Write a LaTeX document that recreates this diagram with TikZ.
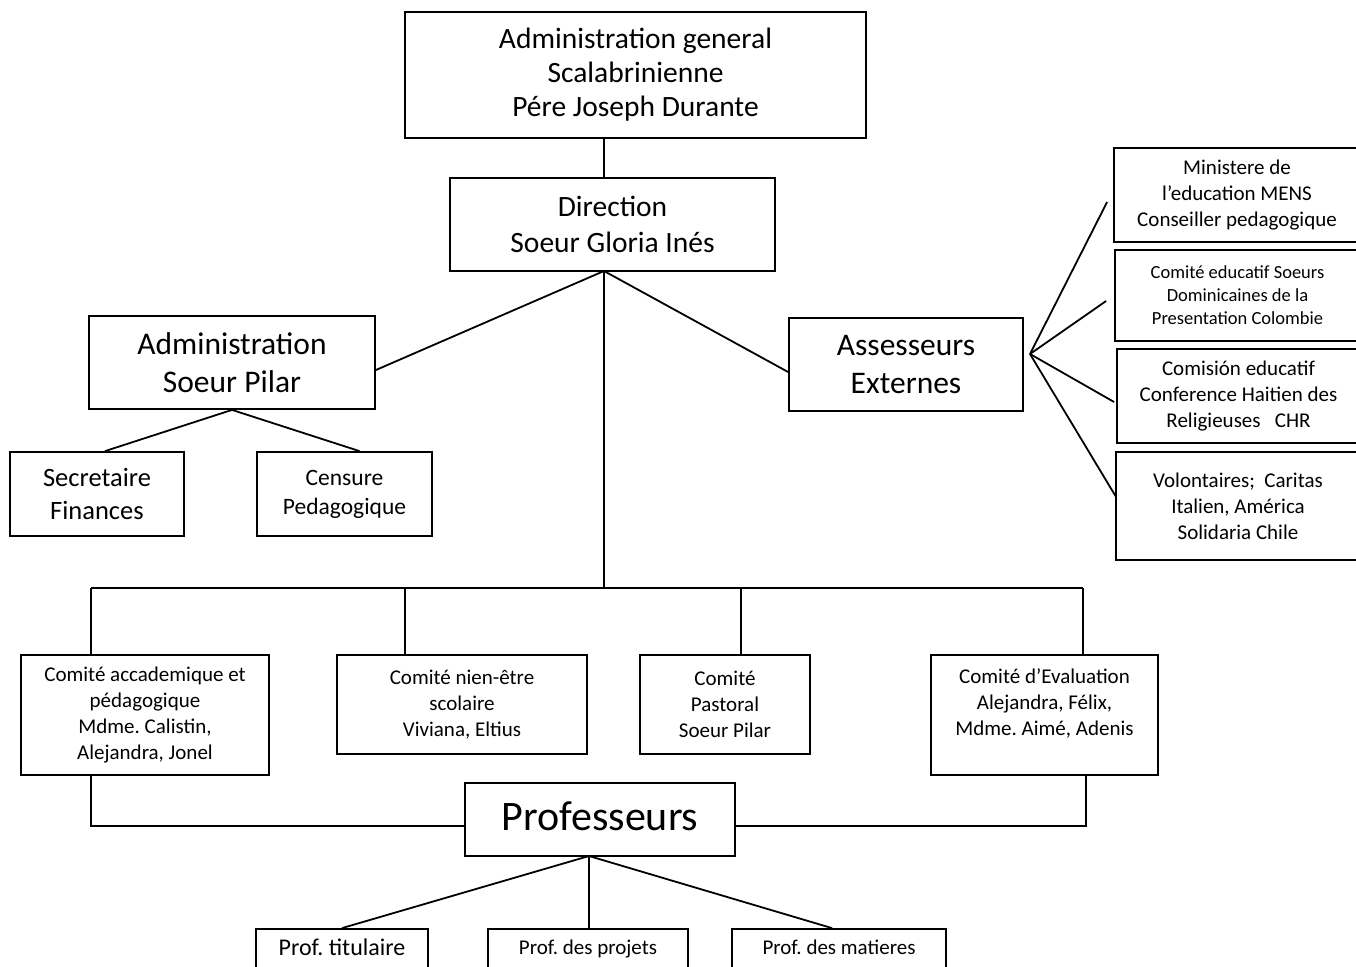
\documentclass[tikz,border=0pt]{standalone}
\usepackage{fontspec}
\setmainfont{Carlito}
\usetikzlibrary{calc}
\newcommand{\fs}[2]{\fontsize{#1}{#2}\selectfont\frenchspacing}
\newcommand{\eqdp}{\vphantom{Pfj}}
\begin{document}
\begin{tikzpicture}[x=1pt,y=-1pt,
  box/.style={draw, line width=1.8pt, inner sep=0pt, align=center},
  conn/.style={line width=1.8pt}]
\useasboundingbox (0,0) rectangle (1356,966);
% top
\node[box, minimum width=461pt, minimum height=126pt, font=\fs{29.5}{34}] (gen) at (635.5,75)
  {Administration general\\Scalabrinienne\\Pére Joseph Durante};
\node[box, minimum width=325pt, minimum height=93pt, font=\fs{29.5}{36}] (dir) at (612.5,224.5)
  {Direction\\Soeur Gloria Inés};
\node[box, minimum width=286pt, minimum height=93pt, font=\fs{31.5}{38}] (adm) at (232,362.5)
  {Administration\\Soeur Pilar};
\node[box, minimum width=234pt, minimum height=93pt, font=\fs{31.5}{38}] (ass) at (906,364.5)
  {Assesseurs\\Externes};
\node[box, minimum width=174pt, minimum height=84pt, font=\fs{26.5}{33}] (sec) at (97,494)
  {Secretaire\\Finances};
\node[box, minimum width=175pt, minimum height=84pt, font=\fs{23.5}{29}] (cen) at (344.5,494)
  {Censure\\Pedagogique};
% right side
\node[box, minimum width=246pt, minimum height=94pt, font=\fs{21}{26}] (r1) at (1237,195)
  {Ministere de\\l’education MENS\\Conseiller pedagogique};
\node[box, minimum width=245pt, minimum height=91pt, font=\fs{18.5}{23}] (r2) at (1237.5,295.5)
  {Comité educatif Soeurs\\Dominicaines de la\\Presentation Colombie};
\node[box, minimum width=243pt, minimum height=94pt, font=\fs{21}{26}] (r3) at (1238.5,396)
  {Comisión educatif\\Conference Haitien des\\Religieuses\ \ \ CHR};
\node[box, minimum width=244pt, minimum height=108pt, font=\fs{21}{26}] (r4) at (1238,506)
  {Volontaires;\ \ Caritas\\Italien, América\\Solidaria Chile};
% committees
\node[box, minimum width=248pt, minimum height=120pt, font=\fs{21}{26}] (c1) at (145,715)
  {Comité accademique et\\pédagogique\\Mdme. Calistin,\\Alejandra, Jonel};
\node[box, minimum width=250pt, minimum height=99pt, font=\fs{21}{26}] (c2) at (462,704.5)
  {Comité nien-être\\scolaire\\Viviana, Eltius};
\node[box, minimum width=170pt, minimum height=99pt, font=\fs{21}{26}] (c3) at (725,704.5)
  {Comité\\Pastoral\\Soeur Pilar};
\node[box, minimum width=227pt, minimum height=120pt, font=\fs{21}{26}] (c4) at (1044.5,715)
  {Comité d’Evaluation\\Alejandra, Félix,\\Mdme. Aimé, Adenis\\~};
% professeurs
\node[box, minimum width=270pt, minimum height=73pt, font=\fs{42}{48}] (prof) at (600,819.5)
  {Professeurs\eqdp};
\node[box, minimum width=172pt, minimum height=40pt, font=\fs{24}{29}] (pt) at (342,949)
  {Prof. titulaire\eqdp};
\node[box, minimum width=200pt, minimum height=40pt, font=\fs{21}{26}] (pp) at (588,949)
  {Prof. des projets\eqdp};
\node[box, minimum width=214pt, minimum height=40pt, font=\fs{21}{26}] (pm) at (839,949)
  {Prof. des matieres\eqdp};
% coordinates
\coordinate (hub) at (604,271);
\coordinate (bar) at (604,588);
\coordinate (barL) at (91,588);
\coordinate (barR) at (1083,588);
\coordinate (fan) at (1030,354);
\coordinate (pfan) at (589,856);
\coordinate (botL) at (91,826);
\coordinate (botR) at (1086,826);
% connectors
\draw[conn] (gen.south -| hub) -- (dir.north -| hub);
\draw[conn] (hub) -- ($(adm.east)+(0,7.5)$);
\draw[conn] (hub) -- ($(ass.west)+(0,7.5)$);
\draw[conn] (hub) -- (bar);
\draw[conn] (adm.south) -- ($(sec.north)+(8,0)$);
\draw[conn] (adm.south) -- ($(cen.north)+(15,0)$);
\draw[conn] (fan) -- ($(r1.west)+(-6,7)$);
\draw[conn] (fan) -- ($(r2.west)+(-8,5.5)$);
\draw[conn] (fan) -- ($(r3.west)+(-2,6)$);
\draw[conn] (fan) -- ($(r4.west)+(1,-9)$);
\draw[conn] (barL) -- (barR);
\draw[conn] (barL) -- (barL |- c1.north);
\draw[conn] (405,588) -- (c2.north -| 405,0);
\draw[conn] (741,588) -- (c3.north -| 741,0);
\draw[conn] (barR) -- (barR |- c4.north);
\draw[conn] (botL |- c1.south) -- (botL) -- (botL -| prof.west);
\draw[conn] (botR |- c4.south) -- (botR) -- (botR -| prof.east);
\draw[conn] (pfan) -- (pt.north);
\draw[conn] (pfan) -- (pfan |- pp.north);
\draw[conn] (pfan) -- ($(pm.north)+(-7,0)$);
\end{tikzpicture}
\end{document}
